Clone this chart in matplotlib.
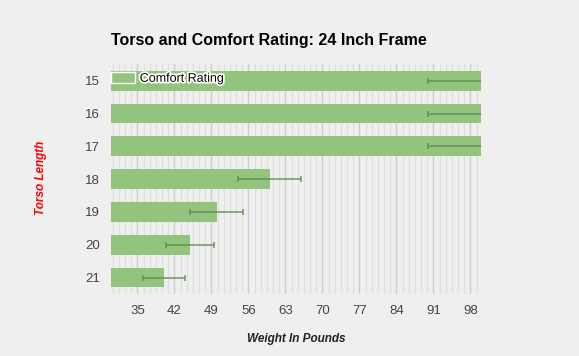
import numpy as np
import matplotlib
matplotlib.use("Agg")
import matplotlib.pyplot as plt
import matplotlib.patheffects as pe
from matplotlib.ticker import FixedLocator

plt.rcParams['font.family'] = ['Liberation Sans', 'DejaVu Sans']

# data
torso = ['15', '16', '17', '18', '19', '20', '21']
comfort = [100, 100, 100, 60, 50, 45, 40]
comfort_err = [10, 10, 10, 6, 5, 4.5, 4]

bg = '#efefef'
bar_color = '#93c47d'

fig = plt.figure(figsize=(5.79, 3.56), dpi=100, facecolor=bg)
ax = fig.add_axes([0.1917, 0.1742, 0.639, 0.6452], facecolor=bg)

y = np.arange(len(torso))
ax.barh(y, comfort, height=0.6, color=bar_color, label='Comfort Rating', zorder=2)
ax.errorbar(comfort, y, xerr=comfort_err, fmt='none', ecolor='#5f8a50', alpha=0.75,
            elinewidth=1.3, capsize=2.5, capthick=1.3, zorder=3)

ax.set_xlim(30, 100)
ax.set_ylim(len(torso) - 0.5, -0.5)
ax.set_yticks(y)
ax.set_yticklabels(torso)

# major ticks every 7, six minor steps between them
major = np.arange(35, 100, 7)
minor = [m for m in np.arange(35 - 7 * 5 / 6, 100, 7 / 6) if 30 < m < 100]
ax.xaxis.set_major_locator(FixedLocator(major))
ax.xaxis.set_minor_locator(FixedLocator(minor))
ax.grid(axis='x', which='major', color='#cdcdcd', linewidth=1.0)
ax.grid(axis='x', which='minor', color='#dfdfdf', linewidth=0.9)
ax.set_axisbelow(True)

ax.tick_params(axis='both', which='both', length=0, labelsize=9.5, colors='#444444')
ax.tick_params(axis='y', pad=8)
ax.tick_params(axis='x', pad=8)
for s in ax.spines.values():
    s.set_visible(False)

fig.text(111 / 579, 1 - 40 / 356, 'Torso and Comfort Rating: 24 Inch Frame',
         fontsize=11.5, fontweight='bold', color='#000000', va='center', ha='left')
fig.text(41 / 579, 1 - 178 / 356, 'Torso Length', rotation=90, color='red',
         fontsize=8.5, fontweight='bold', fontstyle='italic', ha='center', va='center')
fig.text(296 / 579, 1 - 339 / 356, 'Weight In Pounds', color='#222222',
         fontsize=8.5, fontweight='bold', fontstyle='italic', ha='center', va='center')

leg = ax.legend(loc='upper left', bbox_to_anchor=(0, 1 - 8 / 230), frameon=False,
                borderaxespad=0, borderpad=0, handlelength=1.9, handleheight=0.9,
                handletextpad=0.4, fontsize=9)
for h in leg.legend_handles:
    h.set_edgecolor('white')
    h.set_linewidth(1)
for t in leg.get_texts():
    t.set_path_effects([pe.withStroke(linewidth=2.5, foreground='white')])

fig.savefig('out.png', dpi=100, facecolor=bg)
